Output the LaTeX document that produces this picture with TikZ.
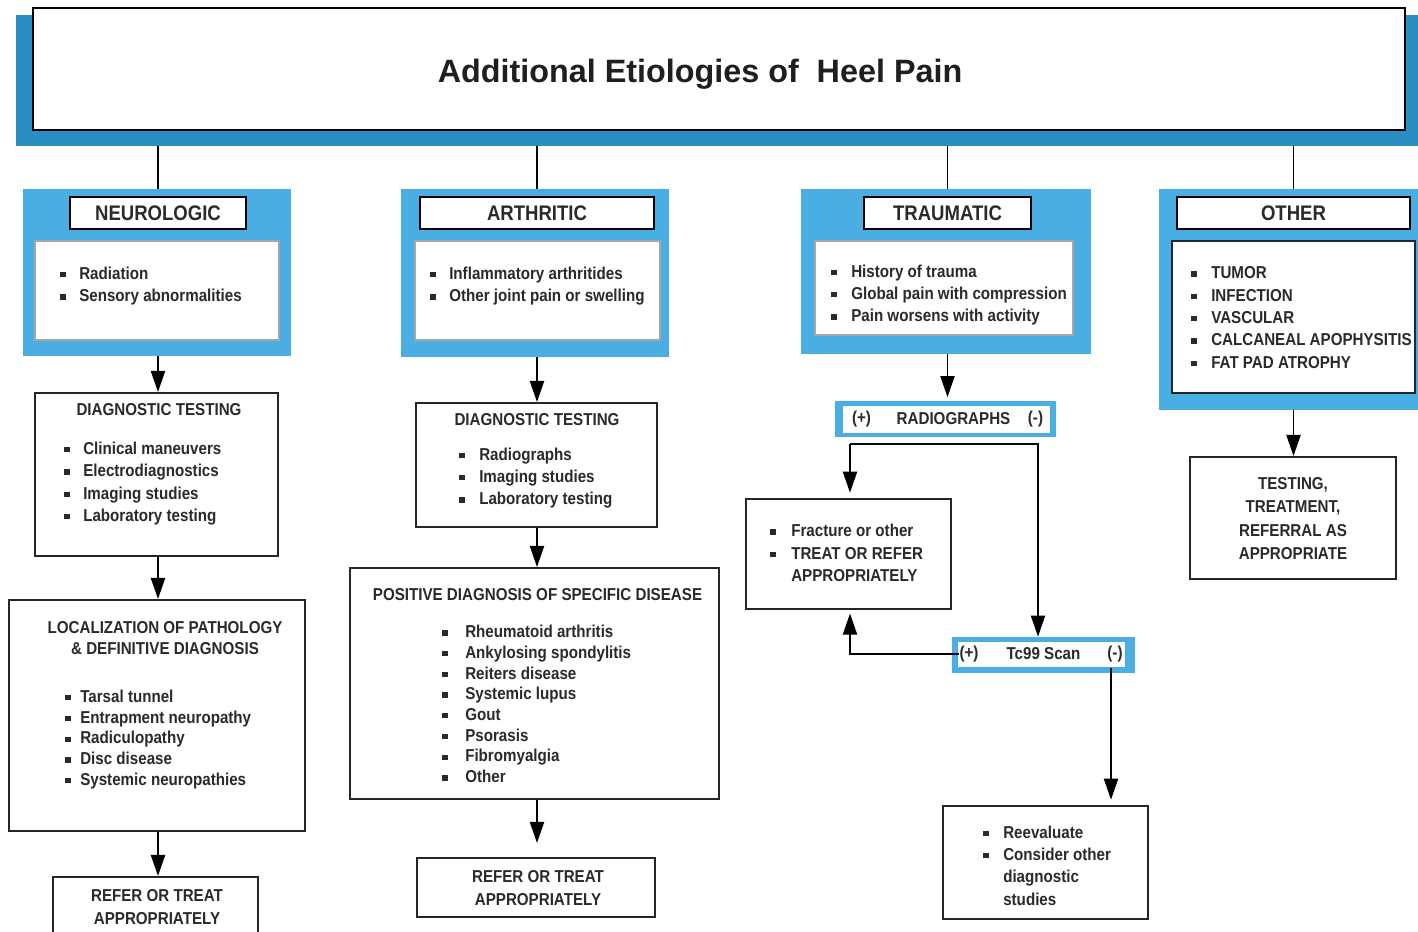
\documentclass[tikz,border=0pt]{standalone}
\usepackage{fontspec}
\setmainfont{Liberation Sans}
\newfontfamily\nar[FakeStretch=0.88]{Liberation Sans}
\usetikzlibrary{arrows.meta,fit}
\definecolor{dblue}{HTML}{298FC2}
\definecolor{lblue}{HTML}{4AAEE2}
\definecolor{txt}{HTML}{2A2A2A}
\newlength\px \setlength\px{0.5669pt}
\newcommand\bi[1]{\makebox[#1\px][l]{\rule[0.12em]{0.31em}{0.31em}}}
\newcommand\tfont{\bfseries\fontsize{18.4}{22}\selectfont}
\newcommand\hfont{\nar\bfseries\fontsize{12}{14}\selectfont}
\newcommand\bfont{\nar\bfseries\fontsize{9.8}{12.75}\selectfont}
\newcommand\bfontn{\nar\bfseries\fontsize{9.8}{11.8}\selectfont}
\newcommand\bfontw{\nar\bfseries\fontsize{9.8}{13.4}\selectfont}
\tikzset{
 arr/.style={line width=1.1pt, -{Triangle[length=12pt,width=8pt]}},
 tln/.style={line width=0.9pt},
 frame/.style={fill=lblue, inner sep=0pt},
 hbox/.style={draw=black, line width=1.1pt, fill=white, inner sep=0pt},
 htext/.style={anchor=center, inner sep=0pt, font=\hfont, text=txt},
 cbox/.style={draw=black!35, line width=0.6pt, fill=white, inner sep=0pt},
 bbox/.style={draw=black!85, line width=1.1pt, fill=white, inner sep=0pt},
 lst/.style={anchor=west, align=left, inner sep=0pt, font=\bfont, text=txt},
 ctr/.style={anchor=center, align=center, inner sep=0pt, font=\bfont, text=txt},
}
\begin{document}
\begin{tikzpicture}[x=0.02cm,y=-0.02cm]
\useasboundingbox (0,0) rectangle (1418,931);
\fill[white] (0,0) rectangle (1418,931);

% title
\node[frame, fill=dblue, fit={(16,15) (1430,146)}] (tshadow) {};
\node[draw=black, line width=1.6pt, fill=white, inner sep=0pt, fit={(33,8) (1405,130)}] (tbox) {};
\node[font=\tfont, text=black!88, inner sep=0pt] (ttl) at (700,74.5) {Additional Etiologies of\ \ Heel Pain};

% NEUROLOGIC
\node[frame, fit={(23,189) (291,356)}] (nframe) {};
\node[hbox, fit={(70,197) (246,229)}] (nhead) {};
\node[htext] (nheadt) at (158,213) {NEUROLOGIC};
\node[cbox, fit={(35,241) (279,340)}] (nbody) {};
\node[lst] (nlist) at (60,286) {\bi{19}Radiation\\\bi{19}Sensory abnormalities};
\node[bbox, fit={(35,393) (278,556)}] (ndiag) {};
\node[ctr] (ndiagt) at (159,410) {DIAGNOSTIC TESTING};
\node[lst] (ndiagl) at (64,483.5) {\bi{19}Clinical maneuvers\\\bi{19}Electrodiagnostics\\\bi{19}Imaging studies\\\bi{19}Laboratory testing};
\node[bbox, fit={(9,600) (305,831)}] (nloc) {};
\node[ctr, font=\bfontn] (nloct) at (165,638) {LOCALIZATION OF PATHOLOGY\\\& DEFINITIVE DIAGNOSIS};
\node[lst, font=\bfontn] (nlocl) at (65,739.5) {\bi{15}Tarsal tunnel\\\bi{15}Entrapment neuropathy\\\bi{15}Radiculopathy\\\bi{15}Disc disease\\\bi{15}Systemic neuropathies};
\node[bbox, fit={(53,877) (258,945)}] (nref) {};
\node[ctr] (nreft) at (157,907) {REFER OR TREAT\\APPROPRIATELY};
\draw[arr] (nframe.south -| nhead) -- (ndiag.north -| nhead);
\draw[arr] (ndiag.south -| nhead) -- (nloc.north -| nhead);
\draw[arr] (nloc.south -| nhead) -- (nref.north -| nhead);

% ARTHRITIC
\node[frame, fit={(401,189) (669,357)}] (aframe) {};
\node[hbox, fit={(420,197) (654,229)}] (ahead) {};
\node[htext] (aheadt) at (537,213) {ARTHRITIC};
\node[cbox, fit={(415,241) (660,340)}] (abody) {};
\node[lst] (alist) at (430,286) {\bi{19}Inflammatory arthritides\\\bi{19}Other joint pain or swelling};
\node[bbox, fit={(416,403) (657,527)}] (adiag) {};
\node[ctr] (adiagt) at (537,420) {DIAGNOSTIC TESTING};
\node[lst] (adiagl) at (459,478) {\bi{20}Radiographs\\\bi{20}Imaging studies\\\bi{20}Laboratory testing};
\node[bbox, fit={(350,568) (719,799)}] (apos) {};
\node[ctr] (apost) at (537.5,595) {POSITIVE DIAGNOSIS OF SPECIFIC DISEASE};
\node[lst, font=\bfontn] (aposl) at (442,704) {\bi{23}Rheumatoid arthritis\\\bi{23}Ankylosing spondylitis\\\bi{23}Reiters disease\\\bi{23}Systemic lupus\\\bi{23}Gout\\\bi{23}Psorasis\\\bi{23}Fibromyalgia\\\bi{23}Other};
\node[bbox, fit={(417,858) (655,917)}] (aref) {};
\node[ctr] (areft) at (538,888) {REFER OR TREAT\\APPROPRIATELY};
\draw[arr] (aframe.south -| ahead) -- (adiag.north -| ahead);
\draw[arr] (adiag.south -| ahead) -- (apos.north -| ahead);
\draw[arr, shorten >=8pt] (apos.south -| ahead) -- (aref.north -| ahead);

% TRAUMATIC
\node[frame, fit={(801,189) (1091,354)}] (tframe) {};
\node[hbox, fit={(864,197) (1031,229)}] (thead) {};
\node[htext] (theadt) at (947.5,213) {TRAUMATIC};
\node[cbox, fit={(815,241) (1073,335)}] (tbody) {};
\node[lst] (tlist) at (831,295) {\bi{20}History of trauma\\\bi{20}Global pain with compression\\\bi{20}Pain worsens with activity};
\node[frame, fit={(835,401) (1056,437)}] (radio) {};
\node[fill=white, inner sep=0pt, fit={(843,406) (1050,433)}] (radioin) {};
\node[ctr] (rplus) at (861.5,419) {(+)};
\node[ctr] (rname) at (953.5,419) {RADIOGRAPHS};
\node[ctr] (rminus) at (1035.5,419) {(-)};
\draw[arr, shorten >=2pt] (tframe.south -| thead) -- (radio.north -| thead);

\node[bbox, fit={(746,499) (951,609)}] (frac) {};
\node[lst] (fracl) at (770,553) {\bi{21}Fracture or other\\\bi{21}TREAT OR REFER\\\hspace*{21\px}APPROPRIATELY};
\node[frame, fit={(952,637) (1135,673)}] (tc) {};
\node[fill=white, inner sep=0pt, fit={(958,642) (1125,667)}] (tcin) {};
\node[ctr] (tplus) at (969,654) {(+)};
\node[ctr] (tname) at (1043.5,654) {Tc99 Scan};
\node[ctr] (tminus) at (1115,654) {(-)};
\node[bbox, fit={(943,806) (1148,919)}] (reev) {};
\node[lst] (reevl) at (983,865.5) {\bi{20}Reevaluate\\\bi{20}Consider other\\\hspace*{20\px}diagnostic\\\hspace*{20\px}studies};

\coordinate (sp1) at (850,444);
\coordinate (sp2) at (1038,444);
\coordinate (tcd) at (1111,668);
\draw[arr, shorten >=3pt] (sp1) -- (sp1 |- frac.north);
\draw[arr] (sp1) -- (sp2) -- (sp2 |- tc.north);
\draw[arr, shorten >=2pt] (tplus.west) -| (frac.south -| sp1);
\draw[arr, shorten >=3pt] (tcd) -- (tcd |- reev.north);

% OTHER
\node[frame, fit={(1159,189) (1430,410)}] (oframe) {};
\node[hbox, fit={(1177,197) (1410,229)}] (ohead) {};
\node[htext] (oheadt) at (1293.5,213) {OTHER};
\node[bbox, fit={(1172,241) (1415,393)}] (obody) {};
\node[lst] (olist) at (1191,317.5) {\bi{20}TUMOR\\\bi{20}INFECTION\\\bi{20}VASCULAR\\\bi{20}CALCANEAL APOPHYSITIS\\\bi{20}FAT PAD ATROPHY};
\node[bbox, fit={(1190,457) (1396,579)}] (otest) {};
\node[ctr, font=\bfontw] (otestt) at (1293,518.5) {TESTING,\\TREATMENT,\\REFERRAL AS\\APPROPRIATE};
\draw[arr] (oframe.south -| ohead) -- (otest.north -| ohead);

% title connectors
\draw[tln] (tshadow.south -| nhead) -- (nframe.north -| nhead);
\draw[tln] (tshadow.south -| ahead) -- (aframe.north -| ahead);
\draw[tln] (tshadow.south -| thead) -- (tframe.north -| thead);
\draw[tln] (tshadow.south -| ohead) -- (oframe.north -| ohead);
\end{tikzpicture}
\end{document}
